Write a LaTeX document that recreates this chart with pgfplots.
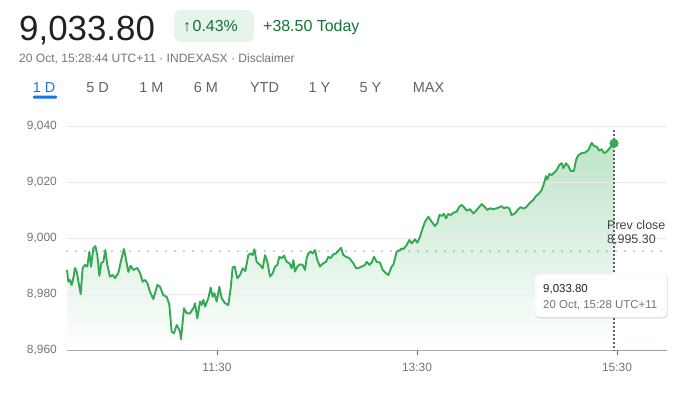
\documentclass[border=0pt]{standalone}
\usepackage{pgfplots}
\pgfplotsset{compat=1.18}
\usepackage{pgfplotstable}
\usepackage{fontspec}
\setmainfont{Liberation Sans}
\definecolor{lgreen}{RGB}{52,168,83}
\definecolor{tgreen}{RGB}{19,115,51}
\definecolor{pillbg}{RGB}{230,244,234}
\definecolor{dtext}{RGB}{32,33,36}
\definecolor{gtext}{RGB}{112,117,122}
\definecolor{tabgray}{RGB}{95,99,104}
\definecolor{gblue}{RGB}{26,115,232}
\definecolor{gridc}{RGB}{232,234,237}
\definecolor{axisc}{RGB}{154,160,166}
\definecolor{fillg}{RGB}{190,228,200}
\newcommand{\fs}[1]{\fontsize{#1}{#1}\selectfont}
\pgfplotstableread{
m v
0 8988.6
0.8 8984.4
1.8 8985.0
2.8 8983.2
3.8 8985.7
4.8 8989.3
5.8 8988.0
8.2 8980.0
9.4 8989.3
10.8 8990.4
12.2 8989.8
13.4 8995.1
14.4 8989.8
15.8 8996.4
17.0 8997.1
18.2 8993.9
19.4 8986.5
20.6 8991.1
21.8 8991.5
23.0 8995.7
24.2 8990.4
25.8 8986.2
27.4 8986.8
28.8 8985.7
30.8 8987.5
32.8 8992.9
34.2 8996.1
35.8 8991.1
36.8 8987.9
38.2 8990.1
39.8 8988.6
42.2 8989.3
43.8 8987.5
45.4 8984.4
46.8 8985.0
48.2 8983.9
49.8 8980.8
51.8 8978.2
54.2 8983.2
55.8 8982.6
57.8 8979.6
59.8 8979.0
60.8 8977.3
61.4 8976.1
62.8 8966.5
64.2 8966.0
65.8 8968.9
66.8 8967.9
67.8 8966.5
68.4 8963.9
70.2 8974.9
71.8 8973.1
73.8 8973.1
75.8 8974.9
76.8 8976.7
78.2 8971.3
79.8 8977.3
80.8 8976.1
81.8 8977.9
82.8 8975.5
84.8 8978.5
86.2 8982.3
87.4 8979.0
88.4 8980.3
89.8 8977.3
91.4 8982.6
92.8 8978.5
94.8 8976.7
96.8 8976.1
98.2 8982.0
99.4 8989.5
100.6 8989.8
102.2 8985.6
103.8 8986.8
105.4 8989.2
107.0 8988.2
108.8 8993.9
110.2 8994.5
111.4 8993.9
112.4 8996.0
113.8 8991.5
115.8 8990.4
117.4 8989.2
118.8 8993.9
120.2 8991.5
121.8 8986.2
123.4 8987.4
124.8 8989.8
126.2 8990.4
127.4 8993.3
128.8 8992.8
130.2 8993.7
131.8 8991.5
133.4 8991.0
134.8 8989.2
135.8 8992.1
136.8 8988.0
138.2 8989.8
139.8 8990.6
141.4 8990.4
142.8 8988.6
143.8 8992.8
144.8 8994.5
146.2 8995.1
147.4 8994.5
148.8 8995.7
150.2 8992.1
151.8 8989.8
153.8 8991.0
155.4 8991.5
156.8 8993.3
158.2 8992.8
159.8 8994.2
161.4 8994.5
162.8 8995.4
164.4 8996.5
165.8 8993.9
167.4 8993.3
169.4 8992.8
171.8 8991.0
173.4 8989.2
175.4 8989.4
176.8 8989.8
178.8 8990.4
179.8 8991.5
181.4 8990.4
182.8 8991.2
184.2 8993.3
185.8 8991.5
187.8 8991.2
189.4 8988.6
191.4 8987.4
192.8 8986.8
194.8 8989.8
195.8 8990.4
197.8 8995.1
199.8 8995.7
200.8 8996.3
201.8 8996.0
203.8 8997.5
205.4 8999.3
206.8 8998.1
208.8 8999.5
210.2 8998.3
211.8 9000.5
213.4 9003.5
214.8 9005.8
216.8 9007.6
218.8 9005.8
220.8 9004.3
222.2 9005.3
223.4 9008.2
224.8 9007.9
226.2 9008.6
227.4 9007.0
228.8 9008.6
230.2 9008.2
231.8 9009.0
233.8 9009.4
235.4 9011.2
236.8 9011.8
238.2 9011.0
239.8 9009.8
241.8 9010.3
243.8 9008.8
245.8 9010.0
248.8 9012.1
250.8 9011.0
252.2 9010.0
253.8 9010.6
255.8 9010.3
257.8 9010.6
259.4 9011.0
260.8 9011.4
262.2 9010.6
263.8 9011.0
265.4 9010.6
266.8 9008.2
268.8 9008.8
270.8 9010.3
272.2 9011.0
274.2 9010.5
275.8 9011.2
277.8 9012.6
279.8 9013.6
281.4 9015.0
283.4 9016.0
284.8 9017.1
286.2 9019.5
287.4 9022.1
288.2 9021.0
289.4 9022.9
290.8 9022.5
292.2 9023.3
293.8 9024.3
295.4 9026.1
296.8 9026.7
297.8 9024.9
299.4 9026.7
300.8 9025.7
302.2 9024.0
304.2 9024.0
305.4 9027.9
306.8 9029.6
308.8 9030.3
310.8 9030.5
312.8 9031.4
314.8 9034.0
316.2 9032.9
317.8 9032.6
319.4 9031.2
320.8 9031.7
322.2 9030.3
323.8 9030.8
325.4 9032.0
326.8 9032.9
328.2 9033.8
}\intraday
\begin{document}
\begin{tikzpicture}[x=1bp,y=1bp]
\path (0,0) rectangle (690,397);
% header
\node[anchor=base west, inner sep=0, text=dtext] at (19,357) {\fs{35}9,033.80};
\fill[pillbg, rounded corners=7bp] (174,387) rectangle (254,355);
\node[anchor=base west, inner sep=0, text=tgreen] at (183,366) {\fs{16}↑\kern1.5bp 0.43\%};
\node[anchor=base west, inner sep=0, text=tgreen] at (263,366) {\fs{16}+38.50 Today};
\node[anchor=base west, inner sep=0, text=gtext] at (19,335) {\fs{12.1}20 Oct, 15:28:44 UTC+11 · INDEXASX · Disclaimer};
% tabs
\node[anchor=base, inner sep=0, text=gblue] at (44,305) {\fs{14.5}1 D};
\fill[gblue, rounded corners=1bp] (33,298.5) rectangle (57,301.5);
\foreach \t/\xx in {5 D/97.5, 1 M/151.5, 6 M/206, YTD/264.5, 1 Y/319.5, 5 Y/370.5, MAX/428.5}{
  \node[anchor=base, inner sep=0, text=tabgray] at (\xx,305) {\fs{14.5}\t};
}
\begin{axis}[
  at={(67bp,47bp)}, anchor=south west,
  scale only axis, width=600bp, height=224bp,
  xmin=0, xmax=360, ymin=8960, ymax=9040,
  axis x line*=bottom, axis y line*=left,
  y axis line style={draw=none},
  x axis line style={axisc, line width=1bp},
  ytick={8960,8980,...,9040},
  ymajorgrids, grid style={gridc, line width=0.8bp},
  ytick style={draw=none},
  xtick={90,210,330}, xticklabels={11:30,13:30,15:30},
  tick align=outside, major tick length=5bp,
  xtick style={tabgray, line width=1bp},
  /pgf/number format/.cd, 1000 sep={,}, assume math mode=true,
  /pgfplots/.cd,
  yticklabel style={font=\fs{12}, text=gtext, anchor=east, inner sep=0pt, xshift=-5bp},
  xticklabel style={font=\fs{12}, text=gtext, anchor=north, inner sep=0pt, yshift=-8bp},
  clip=false,
]
\addplot[draw=none, top color=fillg, bottom color=white] table[x=m,y=v] {\intraday} -- (axis cs:328.2,8960) -- (axis cs:0,8960) -- cycle;
\addplot[gridc, line width=0.8bp, forget plot] coordinates {(0,8980) (360,8980)};
\addplot[gridc, line width=0.8bp, forget plot] coordinates {(0,9000) (360,9000)};
\addplot[gridc, line width=0.8bp, forget plot] coordinates {(0,9020) (360,9020)};
\addplot[draw=lgreen, line width=1.9bp, line join=round] table[x=m,y=v] {\intraday};
\addplot[gtext, line width=1.4bp, dash pattern=on 0bp off 9bp, line cap=round] coordinates {(0,8995.3) (360,8995.3)};
\addplot[tabgray, line width=1.3bp, dash pattern=on 1.6bp off 2.4bp] coordinates {(328.2,9038.6) (328.2,8960)};
\addplot[only marks, mark=*, mark size=4.3bp, lgreen] coordinates {(328.2,9033.8)};
\end{axis}
% prev close label
\node[anchor=base west, inner sep=0, text=dtext!85] at (607,168) {\fs{12.5}Prev close};
\node[anchor=base west, inner sep=0, text=dtext!85] at (607,154) {\fs{12.5}8,995.30};
% tooltip
\fill[black, opacity=0.10, rounded corners=4bp] (535,78.5) rectangle (668,122.5);
\filldraw[fill=white, draw=gridc, rounded corners=4bp] (535,80) rectangle (667,123);
\node[anchor=base west, inner sep=0, text=dtext] at (543,105) {\fs{11.5}9,033.80};
\node[anchor=base west, inner sep=0, text=gtext] at (543,89) {\fs{11.5}20 Oct, 15:28 UTC+11};
\end{tikzpicture}
\end{document}
